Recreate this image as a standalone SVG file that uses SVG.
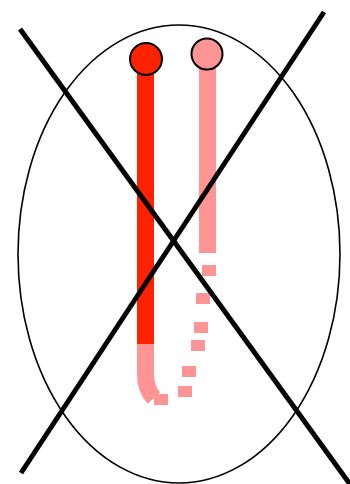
<svg xmlns="http://www.w3.org/2000/svg" width="350" height="484" viewBox="0 0 350 484">
<style>
.red{fill:#ff2200}
.pink{fill:#ff9494}
.dash{fill:#ff9494;shape-rendering:crispEdges}
.circ{stroke:#000;stroke-width:2}
.cross{stroke:#000;stroke-width:5;fill:none}
</style>
<rect width="350" height="484" fill="#fff"/>
<ellipse cx="179" cy="254" rx="161" ry="229" fill="none" stroke="#000" stroke-width="1.6"/>
<g id="left-tube">
<rect class="red" x="137" y="59" width="17" height="285"/>
<path d="M145.5 344 V374 Q145.5 389 154 398" stroke="#ff9494" stroke-width="17" fill="none"/>
<circle class="red circ" cx="146" cy="59" r="16"/>
</g>
<g id="right-tube">
<rect class="pink" x="199" y="54" width="17" height="199"/>
<rect class="dash" x="202" y="265" width="14" height="11"/>
<rect class="dash" x="196" y="293" width="14" height="11"/>
<rect class="dash" x="194" y="322" width="14" height="11"/>
<rect class="dash" x="191" y="340" width="14" height="11"/>
<rect class="dash" x="182" y="366" width="14" height="11"/>
<rect class="dash" x="178" y="386" width="14" height="11"/>
<rect class="dash" x="154" y="394" width="14" height="11"/>
<circle class="pink circ" cx="207" cy="54" r="15.5"/>
</g>
<g id="cross">
<line class="cross" x1="20" y1="29" x2="352" y2="487"/>
<line class="cross" x1="324" y1="12" x2="21" y2="473"/>
</g>
</svg>
